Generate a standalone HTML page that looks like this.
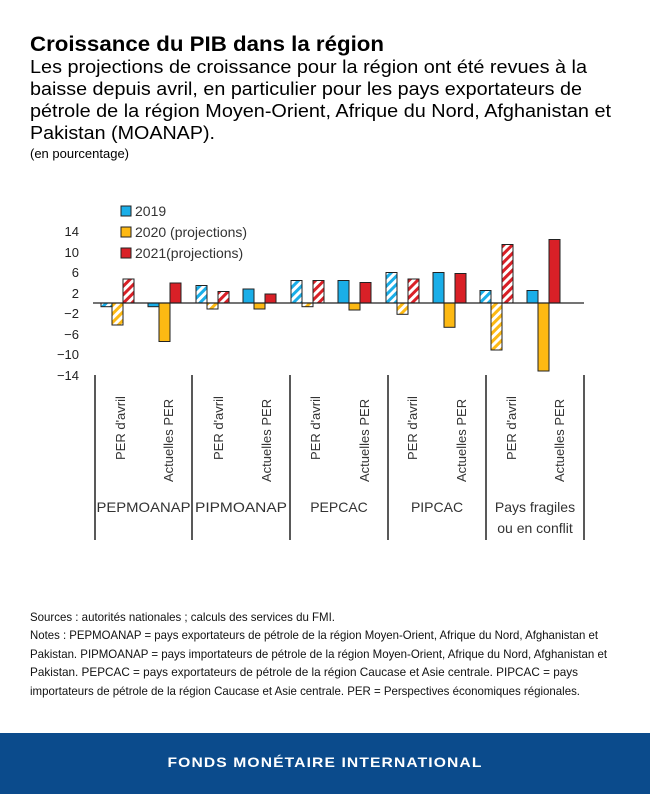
<!DOCTYPE html>
<html><head><meta charset="utf-8"><style>
html,body{margin:0;padding:0;background:#fff;}
svg{display:block;font-family:"Liberation Sans",sans-serif;}
</style></head><body>
<svg width="650" height="794" viewBox="0 0 650 794" xmlns="http://www.w3.org/2000/svg">
<defs>
<pattern id="hb" patternUnits="userSpaceOnUse" width="6" height="6" patternTransform="rotate(45)"><rect width="6" height="6" fill="#fff"/><rect width="3" height="6" fill="#1aaee8"/></pattern>
<pattern id="hy" patternUnits="userSpaceOnUse" width="6" height="6" patternTransform="rotate(45)"><rect width="6" height="6" fill="#fff"/><rect width="3" height="6" fill="#fdb913"/></pattern>
<pattern id="hr" patternUnits="userSpaceOnUse" width="6" height="6" patternTransform="rotate(45)"><rect width="6" height="6" fill="#fff"/><rect width="3" height="6" fill="#d92027"/></pattern>
</defs>
<text x="30" y="51" font-size="21" font-weight="bold" fill="#000" textLength="354" lengthAdjust="spacingAndGlyphs">Croissance du PIB dans la région</text>
<g font-size="18" fill="#000">
<text x="30" y="73" textLength="557" lengthAdjust="spacingAndGlyphs">Les projections de croissance pour la région ont été revues à la</text>
<text x="30" y="95" textLength="552" lengthAdjust="spacingAndGlyphs">baisse depuis avril, en particulier pour les pays exportateurs de</text>
<text x="30" y="117" textLength="581" lengthAdjust="spacingAndGlyphs">pétrole de la région Moyen-Orient, Afrique du Nord, Afghanistan et</text>
<text x="30" y="139" textLength="185" lengthAdjust="spacingAndGlyphs">Pakistan (MOANAP).</text>
</g>
<text x="30" y="158" font-size="13" fill="#000">(en pourcentage)</text>

<!-- legend -->
<g stroke="#222" stroke-width="1">
<rect x="121" y="206" width="10" height="10" fill="#1aaee8"/>
<rect x="121" y="227" width="10" height="10" fill="#fdb913"/>
<rect x="121" y="248" width="10" height="10" fill="#d92027"/>
</g>
<g font-size="14" fill="#333">
<text x="135" y="216">2019</text>
<text x="135" y="237">2020 (projections)</text>
<text x="135" y="258">2021(projections)</text>
</g>
<!-- y ticks -->
<g font-size="13" fill="#222" text-anchor="end">
<text x="79" y="236">14</text>
<text x="79" y="257">10</text>
<text x="79" y="277">6</text>
<text x="79" y="298">2</text>
<text x="79" y="318">−2</text>
<text x="79" y="339">−6</text>
<text x="79" y="359">−10</text>
<text x="79" y="380">−14</text>
</g>
<!-- bars -->
<g stroke="#222" stroke-width="1">
<rect x="101" y="303" width="11" height="3.7" fill="url(#hb)"/>
<rect x="112" y="303" width="11" height="22" fill="url(#hy)"/>
<rect x="123" y="279" width="11" height="24" fill="url(#hr)"/>

<rect x="148" y="303" width="11" height="3.7" fill="#1aaee8"/>
<rect x="159" y="303" width="11" height="38.5" fill="#fdb913"/>
<rect x="170" y="283" width="11" height="20" fill="#d92027"/>

<rect x="196" y="285.5" width="11" height="17.5" fill="url(#hb)"/>
<rect x="207" y="303" width="11" height="6" fill="url(#hy)"/>
<rect x="218" y="291.5" width="11" height="11.5" fill="url(#hr)"/>

<rect x="243" y="289" width="11" height="14" fill="#1aaee8"/>
<rect x="254" y="303" width="11" height="6" fill="#fdb913"/>
<rect x="265" y="294" width="11" height="9" fill="#d92027"/>

<rect x="291" y="280.5" width="11" height="22.5" fill="url(#hb)"/>
<rect x="302" y="303" width="11" height="3.7" fill="url(#hy)"/>
<rect x="313" y="280.5" width="11" height="22.5" fill="url(#hr)"/>

<rect x="338" y="280.5" width="11" height="22.5" fill="#1aaee8"/>
<rect x="349" y="303" width="11" height="7" fill="#fdb913"/>
<rect x="360" y="282.5" width="11" height="20.5" fill="#d92027"/>

<rect x="386" y="272.5" width="11" height="30.5" fill="url(#hb)"/>
<rect x="397" y="303" width="11" height="11.3" fill="url(#hy)"/>
<rect x="408" y="279" width="11" height="24" fill="url(#hr)"/>

<rect x="433" y="272.5" width="11" height="30.5" fill="#1aaee8"/>
<rect x="444" y="303" width="11" height="24.3" fill="#fdb913"/>
<rect x="455" y="273.5" width="11" height="29.5" fill="#d92027"/>

<rect x="480" y="290.5" width="11" height="12.5" fill="url(#hb)"/>
<rect x="491" y="303" width="11" height="47" fill="url(#hy)"/>
<rect x="502" y="244.5" width="11" height="58.5" fill="url(#hr)"/>

<rect x="527" y="290.5" width="11" height="12.5" fill="#1aaee8"/>
<rect x="538" y="303" width="11" height="68" fill="#fdb913"/>
<rect x="549" y="239.5" width="11" height="63.5" fill="#d92027"/>
</g>
<line x1="93" y1="303" x2="584" y2="303" stroke="#222" stroke-width="1.3"/>
<!-- separators -->
<g stroke="#222" stroke-width="1.5">
<line x1="95" y1="375" x2="95" y2="540"/>
<line x1="192" y1="375" x2="192" y2="540"/>
<line x1="290" y1="375" x2="290" y2="540"/>
<line x1="388" y1="375" x2="388" y2="540"/>
<line x1="486" y1="375" x2="486" y2="540"/>
<line x1="584" y1="375" x2="584" y2="540"/>
</g>
<g font-size="13" fill="#333">
<text transform="translate(125,460) rotate(-90)">PER d'avril</text>
<text transform="translate(173,482) rotate(-90)">Actuelles PER</text>
<text transform="translate(223,460) rotate(-90)">PER d'avril</text>
<text transform="translate(271,482) rotate(-90)">Actuelles PER</text>
<text transform="translate(320,460) rotate(-90)">PER d'avril</text>
<text transform="translate(369,482) rotate(-90)">Actuelles PER</text>
<text transform="translate(417,460) rotate(-90)">PER d'avril</text>
<text transform="translate(466,482) rotate(-90)">Actuelles PER</text>
<text transform="translate(516,460) rotate(-90)">PER d'avril</text>
<text transform="translate(564,482) rotate(-90)">Actuelles PER</text>
</g>
<g font-size="14" fill="#333" text-anchor="middle">
<text x="143.5" y="512" textLength="94" lengthAdjust="spacingAndGlyphs">PEPMOANAP</text>
<text x="241" y="512" textLength="92" lengthAdjust="spacingAndGlyphs">PIPMOANAP</text>
<text x="339" y="512">PEPCAC</text>
<text x="437" y="512">PIPCAC</text>
<text x="535" y="512">Pays fragiles</text>
<text x="535" y="533">ou en conflit</text>
</g>
<!-- notes -->
<g font-size="12" fill="#111">
<text x="30" y="621" textLength="305" lengthAdjust="spacingAndGlyphs">Sources : autorités nationales ; calculs des services du FMI.</text>
<text x="30" y="639" textLength="568" lengthAdjust="spacingAndGlyphs">Notes : PEPMOANAP = pays exportateurs de pétrole de la région Moyen-Orient, Afrique du Nord, Afghanistan et</text>
<text x="30" y="658" textLength="577" lengthAdjust="spacingAndGlyphs">Pakistan. PIPMOANAP = pays importateurs de pétrole de la région Moyen-Orient, Afrique du Nord, Afghanistan et</text>
<text x="30" y="676" textLength="548" lengthAdjust="spacingAndGlyphs">Pakistan. PEPCAC = pays exportateurs de pétrole de la région Caucase et Asie centrale. PIPCAC = pays</text>
<text x="30" y="695" textLength="550" lengthAdjust="spacingAndGlyphs">importateurs de pétrole de la région Caucase et Asie centrale. PER = Perspectives économiques régionales.</text>
</g>
<rect x="0" y="733" width="650" height="61" fill="#0b4b8c"/>
<text x="325" y="767" font-size="14" font-weight="bold" fill="#fff" text-anchor="middle" letter-spacing="1" textLength="315" lengthAdjust="spacingAndGlyphs">FONDS MONÉTAIRE INTERNATIONAL</text>
</svg>
</body></html>
